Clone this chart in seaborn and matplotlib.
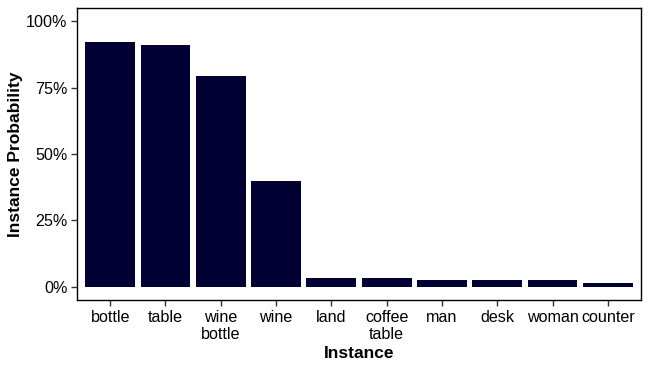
import matplotlib
matplotlib.use("Agg")
import matplotlib.pyplot as plt
import seaborn as sns
import pandas as pd
from matplotlib.ticker import FixedLocator

categories = ["bottle", "table", "wine\nbottle", "wine", "land", "coffee\ntable",
              "man", "desk", "woman", "counter"]
probabilities = [0.921, 0.910, 0.793, 0.397, 0.032, 0.032, 0.025, 0.025, 0.025, 0.013]
y_ticks = [0, 0.25, 0.5, 0.75, 1.0]
y_tick_labels = ["0%", "25%", "50%", "75%", "100%"]

df = pd.DataFrame({"Instance": categories, "Probability": probabilities})

sns.set_theme(style="white")
plt.rcParams["font.family"] = ["Liberation Sans", "DejaVu Sans"]
plt.rcParams["text.color"] = "black"
plt.rcParams["axes.labelcolor"] = "black"

fig = plt.figure(figsize=(6.49, 3.69), dpi=100)
ax = fig.add_axes([77/649, 1 - 300/369, (641 - 77)/649, (300 - 8)/369])

sns.barplot(data=df, x="Instance", y="Probability", color="#000033",
            saturation=1, width=0.9, ax=ax, order=categories)
for p in ax.patches:
    p.set_edgecolor("none")

ax.set_xlim(-0.6, len(categories) - 0.4)
ax.set_ylim(-0.05, 1.05)
ax.yaxis.set_major_locator(FixedLocator(y_ticks))
ax.set_yticklabels(y_tick_labels)
ax.tick_params(axis="both", which="major", length=4, width=1, color="#333333",
               labelsize=11.6, labelcolor="black", pad=3, direction="out",
               left=True, bottom=True)
ax.set_xlabel("Instance", fontsize=12.5, fontweight="bold", labelpad=3, color="black")
ax.set_ylabel("Instance Probability", fontsize=12.5, fontweight="bold", labelpad=2, color="black")
for s in ax.spines.values():
    s.set_visible(True)
    s.set_color("black")
    s.set_linewidth(1)
ax.grid(False)

fig.savefig("out.png", dpi=100)
